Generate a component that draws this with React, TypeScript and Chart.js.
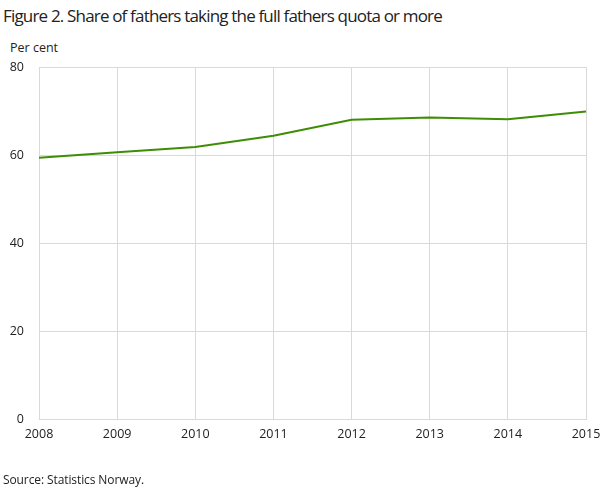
import React, { useEffect, useRef } from 'react';
import { Chart, registerables } from 'chart.js';

Chart.register(...registerables);

// Share of fathers taking the full fathers quota or more, per cent
const years = ['2008', '2009', '2010', '2011', '2012', '2013', '2014', '2015'];
const sharePerCent = [59.4, 60.6, 61.8, 64.4, 68.0, 68.5, 68.1, 69.9];
const yTicks = [0, 20, 40, 60, 80];

const FONT = "'Open Sans', 'DejaVu Sans', sans-serif";
const GRID = '#d9d9d9';
const TEXT = '#222222';

const App: React.FC = () => {
  const chartRef = useRef<HTMLCanvasElement>(null);

  useEffect(() => {
    if (!chartRef.current) return;
    document.body.style.margin = '0';

    const chart = new Chart(chartRef.current, {
      type: 'line',
      data: {
        labels: years,
        datasets: [
          {
            label: 'Share of fathers',
            data: sharePerCent,
            borderColor: '#3f8c05',
            backgroundColor: '#3f8c05',
            borderWidth: 2,
            fill: false,
            tension: 0,
            pointRadius: 0,
          },
        ],
      },
      options: {
        animation: false,
        responsive: false,
        maintainAspectRatio: false,
        layout: { padding: { top: 67, right: 23, bottom: 45, left: 0 } },
        plugins: {
          legend: { display: false },
          tooltip: { enabled: false },
        },
        scales: {
          x: {
            offset: false,
            grid: { color: GRID, drawTicks: false },
            border: { color: GRID },
            ticks: {
              color: TEXT,
              padding: 8,
              maxRotation: 0,
              autoSkip: false,
              font: { family: FONT, size: 12.5 },
            },
            afterFit: (s: any) => {
              s.height = 24;
            },
          },
          y: {
            min: 0,
            max: 80,
            grid: { color: GRID, drawTicks: false },
            border: { color: GRID },
            afterBuildTicks: (s: any) => {
              s.ticks = yTicks.map((v) => ({ value: v }));
            },
            ticks: {
              color: TEXT,
              padding: 15,
              font: { family: FONT, size: 12.5 },
            },
            afterFit: (s: any) => {
              s.width = 39;
            },
          },
        },
      },
    });

    return () => {
      chart.destroy();
    };
  }, []);

  return (
    <div style={{ position: 'relative', width: 609, height: 488, fontFamily: FONT, color: TEXT, background: '#fff' }}>
      <div
        style={{
          position: 'absolute',
          left: 3,
          top: 4,
          fontSize: 17,
          letterSpacing: '-0.82px',
          whiteSpace: 'nowrap',
          lineHeight: '24px',
        }}
      >
        Figure 2. Share of fathers taking the full fathers quota or more
      </div>
      <div style={{ position: 'absolute', left: 10, top: 39, fontSize: 12.5, lineHeight: '17px' }}>Per cent</div>
      <canvas ref={chartRef} width={609} height={488} style={{ position: 'absolute', left: 0, top: 0 }} />
      <div style={{ position: 'absolute', left: 3, top: 471, fontSize: 12, lineHeight: '17px', letterSpacing: '-0.1px' }}>
        Source: Statistics Norway.
      </div>
    </div>
  );
};

export default App;
